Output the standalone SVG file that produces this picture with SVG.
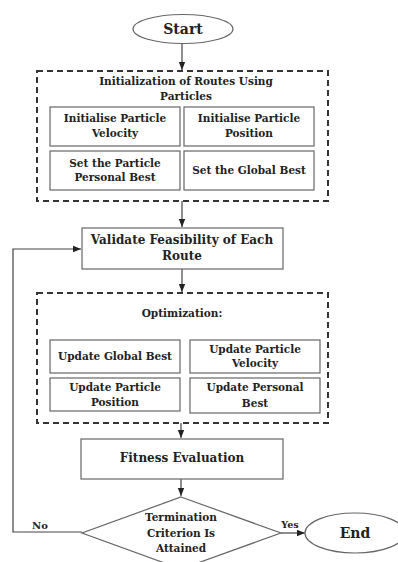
<svg xmlns="http://www.w3.org/2000/svg" width="398" height="562" viewBox="0 0 398 562">
<defs>
<marker id="arr" viewBox="0 0 8 8" refX="8" refY="4" markerWidth="8" markerHeight="8" markerUnits="userSpaceOnUse" orient="auto">
<path d="M0,0.8 L8,4 L0,7.2 Z" fill="#222"/>
</marker>
<style>
.t{font-family:"DejaVu Serif","Liberation Serif",serif;font-weight:bold;fill:#222;text-anchor:middle}
.box{fill:#fff;stroke:#666;stroke-width:1.2}
.dash{fill:none;stroke:#333;stroke-width:2;stroke-dasharray:6 4}
.ln{fill:none;stroke:#444;stroke-width:1.2}
</style>
</defs>
<rect width="398" height="562" fill="#fff"/>
<g id="connectors">
<line class="ln" x1="182" y1="43" x2="182" y2="70" marker-end="url(#arr)"/>
<line class="ln" x1="182" y1="201" x2="182" y2="227" marker-end="url(#arr)"/>
<line class="ln" x1="182" y1="269" x2="182" y2="292" marker-end="url(#arr)"/>
<line class="ln" x1="181" y1="423" x2="181" y2="438" marker-end="url(#arr)"/>
<line class="ln" x1="181" y1="479" x2="181" y2="496" marker-end="url(#arr)"/>
<polyline class="ln" points="82,532 13,532 13,249 81,249" marker-end="url(#arr)"/>
<line class="ln" x1="281" y1="533" x2="305" y2="533" marker-end="url(#arr)"/>
<text class="t" x="40" y="529" font-size="10">No</text>
<text class="t" x="290" y="528" font-size="9.5">Yes</text>
</g>
<g id="start">
<ellipse cx="183" cy="29" rx="50" ry="14.5" fill="#fff" stroke="#666" stroke-width="1.2"/>
<text class="t" x="183" y="34" font-size="14">Start</text>
</g>
<g id="init">
<rect class="dash" x="37" y="71" width="291" height="130"/>
<text class="t" x="186" y="85" font-size="10.5">Initialization of Routes Using</text>
<text class="t" x="186" y="100" font-size="10.5">Particles</text>
</g>
<g id="init-velocity">
<rect class="box" x="50" y="107" width="130" height="39"/>
<text class="t" x="115" y="122" font-size="10.5">Initialise Particle</text>
<text class="t" x="115" y="137" font-size="10.5">Velocity</text>
</g>
<g id="init-position">
<rect class="box" x="184" y="107" width="130" height="39"/>
<text class="t" x="249" y="122" font-size="10.5">Initialise Particle</text>
<text class="t" x="249" y="137" font-size="10.5">Position</text>
</g>
<g id="set-personal">
<rect class="box" x="50" y="151" width="130" height="39"/>
<text class="t" x="115" y="167" font-size="10.5">Set the Particle</text>
<text class="t" x="115" y="181" font-size="10.5">Personal Best</text>
</g>
<g id="set-global">
<rect class="box" x="184" y="151" width="130" height="39"/>
<text class="t" x="249" y="174" font-size="10.5">Set the Global Best</text>
</g>
<g id="validate">
<rect class="box" x="82" y="228" width="201" height="41"/>
<text class="t" x="182" y="244" font-size="12">Validate Feasibility of Each</text>
<text class="t" x="182" y="260" font-size="12">Route</text>
</g>
<g id="optimization">
<rect class="dash" x="37" y="293" width="291" height="130"/>
<text class="t" x="182" y="317" font-size="10.5">Optimization:</text>
</g>
<g id="upd-global">
<rect class="box" x="50" y="340" width="130" height="33"/>
<text class="t" x="115" y="360" font-size="10.5">Update Global Best</text>
</g>
<g id="upd-velocity">
<rect class="box" x="190" y="340" width="130" height="33"/>
<text class="t" x="255" y="353" font-size="10.5">Update Particle</text>
<text class="t" x="255" y="367" font-size="10.5">Velocity</text>
</g>
<g id="upd-position">
<rect class="box" x="50" y="378" width="130" height="33"/>
<text class="t" x="115" y="391" font-size="10.5">Update Particle</text>
<text class="t" x="115" y="406" font-size="10.5">Position</text>
</g>
<g id="upd-personal">
<rect class="box" x="190" y="378" width="130" height="35"/>
<text class="t" x="255" y="391" font-size="10.5">Update Personal</text>
<text class="t" x="255" y="407" font-size="10.5">Best</text>
</g>
<g id="fitness">
<rect class="box" x="81" y="439" width="202" height="40"/>
<text class="t" x="182" y="462" font-size="12">Fitness Evaluation</text>
</g>
<g id="termination">
<polygon points="181,497 281,533 181,569 82,533" fill="#fff" stroke="#666" stroke-width="1.2"/>
<text class="t" x="181" y="521" font-size="10.5">Termination</text>
<text class="t" x="181" y="537" font-size="10.5">Criterion Is</text>
<text class="t" x="181" y="552" font-size="10.5">Attained</text>
</g>
<g id="end">
<ellipse cx="355" cy="533" rx="50" ry="20" fill="#fff" stroke="#666" stroke-width="1.2"/>
<text class="t" x="355" y="538" font-size="14">End</text>
</g>
</svg>
